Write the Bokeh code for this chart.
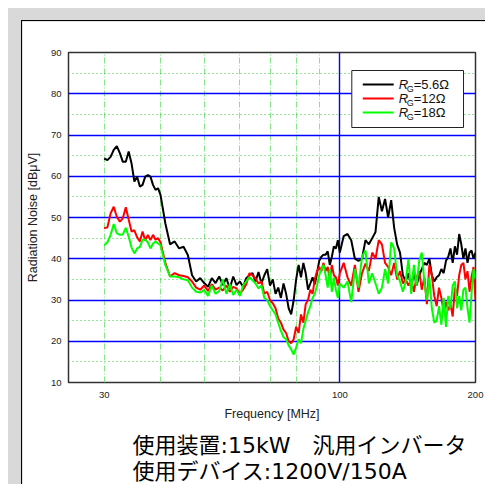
from bokeh.plotting import figure
from bokeh.layouts import column
from bokeh.models import (Range1d, FixedTicker, Grid, Title, PrintfTickFormatter)
from bokeh.core.properties import value
from bokeh.embed import file_html
from bokeh.resources import INLINE

# ---------------- data ----------------
freq = [30, 30.5, 31, 31.5, 32, 32.5, 33, 33.5, 34, 34.5, 35, 35.5, 36, 36.5, 37,
        37.5, 38, 38.5, 39, 39.5, 40,
        41, 42, 43, 44, 45, 46, 47, 48, 49, 50, 51, 52, 53, 54, 55, 56, 57, 58, 59,
        60, 61, 62, 63, 64, 65, 66, 67, 68, 69, 70, 71, 72, 73, 74, 75, 76, 77, 78,
        79, 80, 81, 82, 83, 84, 85, 86, 87, 88, 89, 90, 91, 92, 93, 94, 95, 96, 97,
        98, 99, 100,
        102, 104, 106, 108, 110, 112, 114, 116, 118, 120, 122, 124, 126, 128, 130,
        132, 134, 136, 138, 140, 142, 144, 146, 148, 150, 152, 154, 156, 158, 160,
        162, 164, 166, 168, 170, 172, 174, 176, 178, 180, 182, 184, 186, 188, 190,
        192, 194, 196, 198, 200]

rg_5_6 = [64.3, 63.9, 64.7, 66.4, 67.3, 65.6, 63.5, 63.5, 66.0, 63.1, 58.7, 59.9,
          57.5, 57.9, 59.9, 60.3, 59.9, 57.9, 56.7, 57.1, 55.5,
          48.6, 43.5, 44.2,
          42.5, 42.9, 40.9, 36.0, 34.5, 35.3, 34.1, 33.2, 35.3, 34.1, 35.7, 33.6,
          35.3, 32.8, 35.7, 33.6, 34.5, 33.2, 35.3,
          36.0, 36.5, 34.5, 36.8, 34.0, 36.0, 37.5, 33.5, 35.0, 31.5, 33.0, 30.5,
          34.0, 31.5, 28.0, 26.5, 30.0, 35.0, 38.5, 35.5, 39.0, 36.5, 32.5, 34.0,
          35.5, 33.8, 36.5, 39.5, 40.5, 41.0,
          41.0, 41.8, 38.5, 40.5, 43.0, 42.5, 44.5, 41.5,
          45.5, 46.0, 44.5, 40.0, 39.5, 40.0, 44.5, 43.5, 45.0, 46.5, 55.0, 51.5,
          54.5, 50.0, 54.2, 47.5, 43.5, 41.5,
          36.0, 34.5, 36.5, 33.0, 37.0, 33.5, 36.0, 37.5, 39.0, 38.5, 40.0, 36.0,
          34.5, 35.5, 36.0, 37.5, 36.5, 39.5, 40.5, 42.5, 39.0, 43.0, 41.0, 46.0,
          43.5, 40.0, 42.5, 39.0, 41.5, 42.0, 40.0, 41.5]

rg_12 = [47.4, 47.6, 51.0, 52.6, 50.2, 49.0, 49.8, 52.5, 49.5, 46.6, 46.9, 45.2,
         44.2, 46.6, 44.4, 45.8, 44.5, 45.8, 44.6, 45.0, 44.0,
         39.0, 35.7, 36.5,
         36.0, 35.8, 35.5, 34.5, 33.0, 32.5, 33.5, 32.2, 33.8, 32.5, 33.0, 32.3,
         33.5, 32.0, 33.2, 32.8, 31.5, 32.5, 33.8,
         36.5, 36.0, 35.2, 34.0, 34.5, 31.5, 32.0, 30.0, 29.2, 28.0, 25.5, 24.5,
         22.8, 22.0, 20.0, 19.5, 20.5, 23.5, 22.0, 26.5, 24.5, 29.0, 30.0, 32.5,
         31.5, 35.0, 37.0, 38.0, 37.0, 39.0,
         37.0, 38.0, 35.0, 38.5, 36.0, 35.5, 33.5, 36.5,
         39.0, 35.5, 33.5, 38.5, 32.0, 36.5, 38.8, 37.0, 41.5, 40.0, 44.5, 43.5,
         39.0, 38.0, 36.0, 39.0, 35.0, 37.0,
         34.0, 35.0, 33.5, 35.0, 32.0, 35.5, 37.0, 32.5, 35.5, 29.0, 38.5, 36.0,
         31.0, 28.5, 33.0, 30.5, 27.0, 29.5, 27.5, 29.0, 26.0, 33.0, 31.0, 36.0,
         38.5, 39.0, 35.0, 37.0, 32.0, 35.5, 38.0, 30.0]

rg_18 = [43.3, 44.0, 45.8, 48.4, 46.2, 45.8, 45.9, 47.5, 45.4, 42.7, 41.3, 42.5,
         42.9, 44.6, 44.6, 44.0, 42.5, 43.7, 44.2, 43.7, 43.3,
         38.5, 35.7, 35.7,
         35.5, 35.0, 34.8, 33.0, 32.0, 31.8, 32.5, 31.0, 33.5, 31.5, 32.2, 35.0,
         31.5, 33.8, 31.2, 32.5, 31.0, 33.5, 34.5,
         35.5, 34.8, 34.0, 32.8, 33.5, 30.5, 30.0, 28.5, 27.5, 26.5, 24.5, 22.5,
         21.0, 20.5, 19.0, 18.0, 16.8, 18.5, 20.5, 19.5, 23.0, 25.0, 27.0, 28.5,
         30.5, 31.5, 33.5, 36.0, 37.5, 38.5,
         36.0, 33.0, 37.5, 32.0, 35.5, 32.5, 30.5, 34.0,
         33.0, 34.5, 29.5, 37.5, 33.0, 40.5, 42.0, 34.0, 36.5, 34.0, 31.5, 33.0,
         37.5, 34.0, 44.0, 42.5, 36.0, 34.5,
         32.0, 34.5, 40.0, 31.5, 38.5, 33.5, 39.5, 41.5, 34.5, 30.0, 35.5, 28.0,
         24.5, 25.0, 28.5, 24.0, 30.5, 23.5, 31.0, 28.0, 33.5, 34.5, 28.0, 31.0,
         27.5, 32.5, 33.0, 28.0, 24.5, 31.5, 37.5, 35.0]

series_colors = ["#000000", "#ff0000", "#00ff00"]
legend_symbol = "R"
legend_sub = "G"
legend_values = ["=5.6Ω", "=12Ω", "=18Ω"]
x_tick_values = [30, 100, 200]
y_tick_values = [10, 20, 30, 40, 50, 60, 70, 80, 90]
x_minor_grid = [30, 40, 50, 60, 70, 80, 90]
x_major_grid = [100]
y_major_grid = [20, 30, 40, 50, 60, 70, 80]
y_minor_grid = [15, 25, 35, 45, 55, 65, 75, 85]
x_title = "Frequency [MHz]"
y_title = "Radiation Noise [dBμV]"
note_lines = ["使用装置:15kW　汎用インバータ", "使用デバイス:1200V/150A"]

# ---------------- figure ----------------
LAT = "Liberation Sans"
JP = "DejaVu Sans, Noto Sans CJK JP"
X0, X1, Y0, Y1 = 25, 200, 10, 90
FL, FR, FT, FB = 67, 475, 52, 382          # frame edges on the page (px)

p = figure(width=470, height=476, x_axis_type="log",
           x_range=Range1d(X0, X1), y_range=Range1d(Y0, Y1),
           output_backend="svg", toolbar_location=None,
           min_border_left=45, min_border_right=17,
           min_border_top=31, min_border_bottom=115,
           border_fill_color="white", background_fill_color="white",
           outline_line_color="#333333", outline_line_width=1.5,
           margin=(12, 0, 0, 13),
           styles={"border-left": "1px solid #000000",
                   "border-top": "1px solid #000000"})


def px_to_x(px):
    """page pixel -> data x (log axis), used only for legend placement"""
    return X0 * (X1 / X0) ** ((px - FL) / (FR - FL))


def py_to_y(py):
    return Y0 + (FB - py) * (Y1 - Y0) / (FB - FT)


p.xgrid.visible = False
p.ygrid.visible = False
for g in [
    Grid(dimension=0, ticker=FixedTicker(ticks=x_minor_grid),
         grid_line_color="#88e488", grid_line_dash="6 2 1 2", grid_line_width=1),
    Grid(dimension=1, ticker=FixedTicker(ticks=y_minor_grid),
         grid_line_color="#33cc33", grid_line_dash="1 3", grid_line_width=1),
    Grid(dimension=0, ticker=FixedTicker(ticks=x_major_grid),
         grid_line_color="#0000ff", grid_line_width=1.4),
    Grid(dimension=1, ticker=FixedTicker(ticks=y_major_grid),
         grid_line_color="#0000ff", grid_line_width=1.4),
]:
    p.add_layout(g)

p.xaxis.ticker = FixedTicker(ticks=x_tick_values)
p.xaxis.formatter = PrintfTickFormatter(format="%d")
p.yaxis.ticker = FixedTicker(ticks=y_tick_values)
for ax in (p.xaxis[0], p.yaxis[0]):
    ax.axis_line_color = None
    ax.major_tick_line_color = None
    ax.minor_tick_line_color = None
    ax.major_tick_in = 0
    ax.major_tick_out = 0
    ax.minor_tick_in = 0
    ax.minor_tick_out = 0
    ax.major_label_text_font = LAT
    ax.major_label_text_font_size = "9.5px"
    ax.major_label_text_color = "#222222"
    ax.axis_label_text_font = LAT
    ax.axis_label_text_font_size = "12.5px"
    ax.axis_label_text_font_style = "normal"
    ax.axis_label_text_color = "#222222"
p.xaxis.axis_label = x_title
p.yaxis.axis_label = y_title
p.xaxis.major_label_standoff = 9
p.xaxis.axis_label_standoff = 6
p.yaxis.major_label_standoff = 7
p.yaxis.axis_label_standoff = 8

for ys, c in zip([rg_5_6, rg_12, rg_18], series_colors):
    p.line(freq, ys, line_color=c, line_width=2)

# ---------------- hand-built legend (R in italics, G as subscript) --------
rows = [84, 98, 112]
p.quad(left=[px_to_x(351)], right=[px_to_x(463)],
       top=[py_to_y(70)], bottom=[py_to_y(127)],
       fill_color="white", line_color="#222222", line_width=1)
p.segment(x0=[px_to_x(362)] * 3, x1=[px_to_x(393)] * 3,
          y0=[py_to_y(r) for r in rows], y1=[py_to_y(r) for r in rows],
          line_color=series_colors, line_width=2)
p.text(x=[px_to_x(398)] * 3, y=[py_to_y(r) for r in rows],
       text=[legend_symbol] * 3, text_font=value(LAT), text_font_style="italic",
       text_font_size="13px", text_baseline="middle", text_align="left",
       text_color="#111111")
p.text(x=[px_to_x(406)] * 3, y=[py_to_y(r + 4) for r in rows],
       text=[legend_sub] * 3, text_font=value(LAT),
       text_font_size="9px", text_baseline="middle", text_align="left",
       text_color="#111111")
p.text(x=[px_to_x(413)] * 3, y=[py_to_y(r) for r in rows],
       text=legend_values, text_font=value(LAT),
       text_font_size="13px", text_baseline="middle", text_align="left",
       text_color="#111111")

# ---------------- notes below the chart (one two-line title) ----------------
p.add_layout(Title(text="\n".join(note_lines), align="left", offset=64,
                   standoff=13, text_font=JP, text_font_size="22px",
                   text_line_height=1.06, text_font_style="normal",
                   text_color="#000000"),
             "below")

page = column(p, margin=(8, 0, 0, 8), width=477, height=476,
              styles={"background-color": "#d9d9d9"})

open("out.html", "w").write(file_html(page, INLINE))
